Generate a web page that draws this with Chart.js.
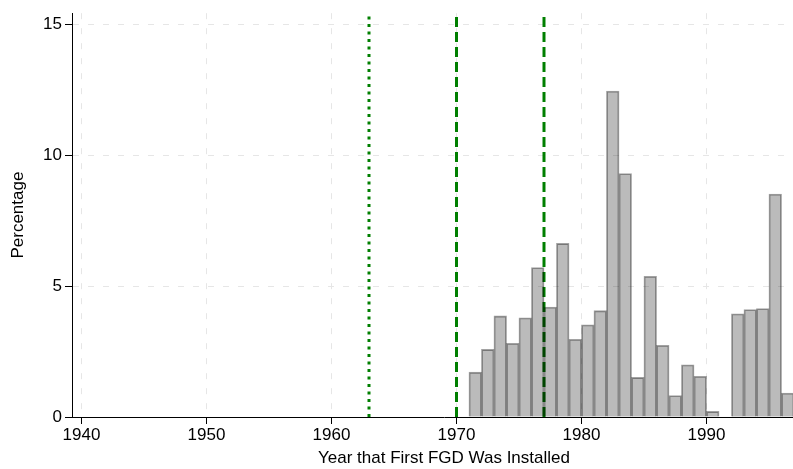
<!DOCTYPE html>
<html>
<head>
<meta charset="utf-8">
<script src="https://cdn.jsdelivr.net/npm/chart.js@4"></script>
<style>
  html, body { margin: 0; padding: 0; background: #fff; overflow: hidden; }
  #wrap { width: 816px; height: 469px; }
</style>
</head>
<body>
<div id="wrap"><canvas id="myChart" width="816" height="469"></canvas></div>
<script>
// share of units by year the first FGD went in (1-year bins)
const years = [1971, 1972, 1973, 1974, 1975, 1976, 1977, 1978, 1979, 1980, 1981, 1982, 1983,
  1984, 1985, 1986, 1987, 1988, 1989, 1990, 1991, 1992, 1993, 1994, 1995, 1996]
const percent = [1.71, 2.58, 3.86, 2.81, 3.79, 5.71, 4.20, 6.63, 2.97, 3.52, 4.06, 12.45, 9.30,
  1.51, 5.37, 2.74, 0.82, 1.99, 1.55, 0.21, null, 3.94, 4.10, 4.14, 8.52, 0.91]

// reference years marked with green lines
const markYears = [1963, 1970, 1977]
const markDash = [[3, 4.5], [10, 5], [10, 5]]

const xTicks = [1940, 1950, 1960, 1970, 1980, 1990]
const yTicks = [0, 5, 10, 15]
// 12.5 px per year; bin edges fall on whole pixels
const xMin = 1939.24, xMax = 1998.76
const yMax = 15.43

const tickFont = { family: 'Liberation Sans, Arial, sans-serif', size: 17 }
const titleFont = { family: 'Liberation Sans, Arial, sans-serif', size: 17 }

const bars = []
for (let i = 0; i < years.length; i++) {
    if (percent[i] !== null) bars.push({ x: years[i] + 0.5, y: percent[i] })
}

const datasets = [{
    type: 'bar',
    data: bars,
    backgroundColor: '#bbbbbb',
    borderColor: '#a2a2a2',
    borderWidth: 1,
    inflateAmount: 0.4,
    barPercentage: 1,
    categoryPercentage: 1,
    order: 0
}]
markYears.forEach((yr, i) => {
    datasets.push({
        type: 'line',
        data: [{ x: yr, y: 0 }, { x: yr, y: yMax }],
        borderColor: '#007f00',
        borderWidth: 3,
        borderDash: markDash[i],
        pointRadius: 0,
        fill: false,
        order: 1
    })
})

// bars are multiplied over the green lines so a line stays visible (darker) through a bar
const multiplyBars = {
    id: 'multiplyBars',
    beforeDatasetDraw(chart, args) {
        if (args.meta.type === 'bar') {
            chart.ctx.save()
            chart.ctx.globalCompositeOperation = 'multiply'
        }
    },
    afterDatasetDraw(chart, args) {
        if (args.meta.type === 'bar') chart.ctx.restore()
    }
}

const gridLook = { color: '#e6e6e6', lineWidth: 1, tickColor: '#000', tickLength: 7, tickWidth: 1, offset: false }

const ctx = document.getElementById('myChart').getContext('2d')
const myChart = new Chart(ctx, {
    type: 'bar',
    data: { datasets: datasets },
    plugins: [multiplyBars],
    options: {
        responsive: false,
        animation: false,
        devicePixelRatio: 1,
        layout: { padding: 0 },
        plugins: { legend: { display: false }, tooltip: { enabled: false } },
        scales: {
            x: {
                type: 'linear',
                offset: false,
                min: xMin,
                max: xMax,
                afterBuildTicks: (s) => { s.ticks = xTicks.map(v => ({ value: v })) },
                afterFit: (s) => { s.height = 52 },
                grid: gridLook,
                border: { color: '#000', width: 1, dash: [6, 9] },
                ticks: { color: '#000', font: tickFont, padding: 1, maxRotation: 0, callback: (v) => String(v) },
                title: { display: true, text: 'Year that First FGD Was Installed', color: '#000', font: titleFont, padding: { top: 2, bottom: 0 } }
            },
            y: {
                min: 0,
                max: yMax,
                afterBuildTicks: (s) => { s.ticks = yTicks.map(v => ({ value: v })) },
                afterFit: (s) => { s.width = 72 },
                grid: gridLook,
                border: { color: '#000', width: 1, dash: [6, 9] },
                ticks: { color: '#000', font: tickFont, padding: 3 },
                title: { display: true, text: 'Percentage', color: '#000', font: titleFont, padding: { top: 8, bottom: 0 } }
            }
        }
    }
})
</script>
</body>
</html>
